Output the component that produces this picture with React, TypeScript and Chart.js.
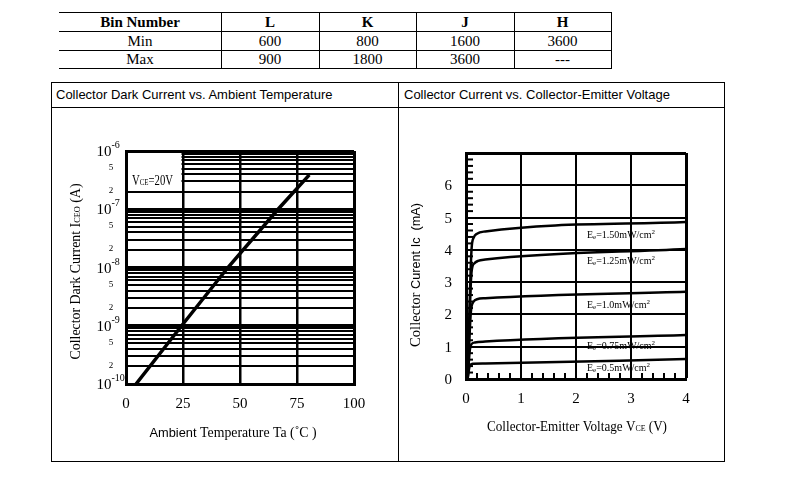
import React, { useEffect, useRef } from "react";
import { Chart, registerables } from "chart.js";

Chart.register(...registerables);

const SERIF = '"Liberation Serif", "Times New Roman", serif';
const SANS = '"Liberation Sans", Arial, sans-serif';

// ---------- Bin table ----------
const binHeader = ["Bin Number", "L", "K", "J", "H"];
const binMinRow = ["Min", "600", "800", "1600", "3600"];
const binMaxRow = ["Max", "900", "1800", "3600", "---"];

// ---------- Collector dark current vs ambient temperature ----------
const ambientTemp = [4.4, 24.4, 44.7, 66.7, 80.4];
const darkCurrentA = [1e-10, 1e-9, 1e-8, 1e-7, 3.9e-7];
const tempTickValues = [0, 25, 50, 75, 100];
const decadeExponents = [-10, -9, -8, -7, -6];
const gridMultipliers = [1, 2, 3, 4, 5, 6, 7, 8, 9];
const minorLabelMultipliers = [5, 2];
const vceCondition = "=20V";

// ---------- Collector current vs collector-emitter voltage ----------
const vceTickValues = [0, 1, 2, 3, 4];
const icTickValues = [0, 1, 2, 3, 4, 5, 6];
const icAxisMax = 7;
const vceAxisMax = 4;
const minorStep = 0.2;

const irradianceNames = ["1.50", "1.25", "1.0", "0.75", "0.5"];
const vceEe150 = [0.03, 0.1, 0.14, 0.2, 0.35, 4];
const icEe150 = [0, 4.0, 4.38, 4.5, 4.57, 4.86];
const vceEe125 = [0.03, 0.1, 0.15, 0.22, 0.35, 4];
const icEe125 = [0, 3.3, 3.58, 3.66, 3.7, 4.03];
const vceEe100 = [0.03, 0.09, 0.14, 0.2, 0.35, 4];
const icEe100 = [0, 2.1, 2.4, 2.47, 2.5, 2.7];
const vceEe075 = [0.03, 0.07, 0.1, 0.16, 0.35, 4];
const icEe075 = [0, 0.9, 1.08, 1.13, 1.16, 1.36];
const vceEe050 = [0.03, 0.06, 0.08, 0.13, 0.35, 4];
const icEe050 = [0, 0.36, 0.44, 0.47, 0.48, 0.62];
const curveVce = [vceEe150, vceEe125, vceEe100, vceEe075, vceEe050];
const curveIc = [icEe150, icEe125, icEe100, icEe075, icEe050];
const curveLabelVce = [2.2, 2.2, 2.2, 2.2, 2.2];
const curveLabelIc = [4.49, 3.68, 2.32, 1.03, 0.37];

// ---------- text helper ----------
type Part = { t: string; size: number; family?: string; weight?: string; dy?: number };

function drawParts(
  ctx: CanvasRenderingContext2D,
  parts: Part[],
  x: number,
  y: number,
  align: "left" | "center" | "right",
  targetWidth?: number
) {
  const fontOf = (p: Part) => `${p.weight || "normal"} ${p.size}px ${p.family || SERIF}`;
  let total = 0;
  for (const p of parts) {
    ctx.font = fontOf(p);
    total += ctx.measureText(p.t).width;
  }
  const sx = targetWidth ? targetWidth / total : 1;
  const w = total * sx;
  const start = align === "left" ? x : align === "center" ? x - w / 2 : x - w;
  ctx.save();
  ctx.translate(start, y);
  ctx.scale(sx, 1);
  ctx.textAlign = "left";
  ctx.textBaseline = "alphabetic";
  ctx.fillStyle = "#000";
  let cx = 0;
  for (const p of parts) {
    ctx.font = fontOf(p);
    ctx.fillText(p.t, cx, p.dy || 0);
    cx += ctx.measureText(p.t).width;
  }
  ctx.restore();
}

function drawRotated(ctx: CanvasRenderingContext2D, parts: Part[], cx: number, cy: number, targetWidth?: number) {
  ctx.save();
  ctx.translate(cx, cy);
  ctx.rotate(-Math.PI / 2);
  drawParts(ctx, parts, 0, 0, "center", targetWidth);
  ctx.restore();
}

const isDecade = (v: number) => {
  const l = Math.log10(v);
  return Math.abs(l - Math.round(l)) < 1e-6;
};

const yGridValues: number[] = decadeExponents.flatMap((e, i) =>
  i === decadeExponents.length - 1 ? [Math.pow(10, e)] : gridMultipliers.map((m) => m * Math.pow(10, e))
);

// ---------- plugins ----------
const leftDecor = {
  id: "leftDecor",
  beforeDatasetsDraw(chart: any) {
    const { ctx, chartArea: a, scales } = chart;
    const x = scales.x;
    const y = scales.y;
    const x1 = x.getPixelForValue(25) - 1.5;
    const y1 = y.getPixelForValue(2e-7) - 1.2;
    ctx.save();
    ctx.fillStyle = "#fff";
    ctx.fillRect(a.left + 2, a.top + 2, x1 - a.left - 2, y1 - a.top - 2);
    ctx.restore();
    drawParts(
      ctx,
      [
        { t: "V", size: 14 },
        { t: "CE", size: 9 },
        { t: vceCondition, size: 14 },
      ],
      a.left + 6,
      a.top + 34,
      "left",
      41
    );
  },
  afterDraw(chart: any) {
    const { ctx, chartArea: a, scales } = chart;
    const x = scales.x;
    const y = scales.y;
    // decade labels
    for (const e of decadeExponents) {
      const py = y.getPixelForValue(Math.pow(10, e));
      drawParts(
        ctx,
        [
          { t: "10", size: 15 },
          { t: String(e), size: 10, dy: -8 },
        ],
        a.left - 29.5,
        py + 5,
        "left"
      );
    }
    // 5 and 2 labels
    for (const e of decadeExponents.slice(0, -1)) {
      for (const m of minorLabelMultipliers) {
        const py = y.getPixelForValue(m * Math.pow(10, e));
        drawParts(ctx, [{ t: String(m), size: 9 }], a.left - 15, py + 1.5, "center");
      }
    }
    // x tick labels
    for (const t of tempTickValues) {
      drawParts(ctx, [{ t: String(t), size: 15 }], x.getPixelForValue(t), a.bottom + 24, "center");
    }
    // x title
    drawParts(
      ctx,
      [
        { t: "Ambient ", size: 13, family: SANS },
        { t: "Temperature Ta (˚C )", size: 14 },
      ],
      (a.left + a.right) / 2 - 7,
      a.bottom + 53,
      "center",
      167
    );
    // y title
    drawRotated(
      ctx,
      [
        { t: "Collector Dark Current I", size: 15 },
        { t: "CEO", size: 9 },
        { t: " (A)", size: 15 },
      ],
      a.left - 46,
      (a.top + a.bottom) / 2 + 4,
      176
    );
  },
};

const rightDecor = {
  id: "rightDecor",
  beforeDatasetsDraw(chart: any) {
    const { ctx, chartArea: a, scales } = chart;
    const x = scales.x;
    const y = scales.y;
    ctx.save();
    ctx.strokeStyle = "#000";
    ctx.lineWidth = 2;
    const nx = Math.round(vceAxisMax / minorStep);
    for (let k = 1; k < nx; k++) {
      if (k % 5 === 0) continue;
      const px = x.getPixelForValue(k * minorStep);
      ctx.beginPath();
      ctx.moveTo(px, a.bottom);
      ctx.lineTo(px, a.bottom - 6);
      ctx.stroke();
    }
    const ny = Math.round(icAxisMax / minorStep);
    for (let k = 1; k < ny; k++) {
      if (k % 5 === 0) continue;
      const py = y.getPixelForValue(k * minorStep);
      ctx.beginPath();
      ctx.moveTo(a.left, py);
      ctx.lineTo(a.left + 7, py);
      ctx.stroke();
    }
    ctx.restore();
  },
  afterDraw(chart: any) {
    const { ctx, chartArea: a, scales } = chart;
    const x = scales.x;
    const y = scales.y;
    for (const v of icTickValues) {
      drawParts(ctx, [{ t: String(v), size: 15 }], a.left - 14, y.getPixelForValue(v) + 5, "right");
    }
    for (const v of vceTickValues) {
      drawParts(ctx, [{ t: String(v), size: 15 }], x.getPixelForValue(v), a.bottom + 24, "center");
    }
    irradianceNames.forEach((name, i) => {
      drawParts(
        ctx,
        [
          { t: "E", size: 10 },
          { t: "e", size: 7, dy: 1 },
          { t: "=" + name + "mW/cm", size: 10 },
          { t: "2", size: 7, dy: -4 },
        ],
        x.getPixelForValue(curveLabelVce[i]),
        y.getPixelForValue(curveLabelIc[i]) + 3.5,
        "left"
      );
    });
    drawParts(
      ctx,
      [
        { t: "Collector-Emitter Voltage V", size: 15 },
        { t: "CE", size: 9 },
        { t: " (V)", size: 15 },
      ],
      (a.left + a.right) / 2 + 1,
      a.bottom + 52,
      "center",
      180
    );
    drawRotated(
      ctx,
      [
        { t: "Collector ", size: 15 },
        { t: "Curent Ic  (mA)", size: 13, family: SANS },
      ],
      a.left - 46,
      (a.top + a.bottom) / 2 + 9,
      144
    );
  },
};

function BinTable() {
  const colX = [59, 221, 319, 416, 514, 611];
  const rowY = [12, 31, 50, 68];
  const rows = [binHeader, binMinRow, binMaxRow];
  const els: any[] = [];
  rowY.forEach((yy, i) =>
    els.push(
      <div key={"h" + i} style={{ position: "absolute", left: colX[0], top: yy, width: colX[5] - colX[0] + 1, height: 1, background: "#000" }} />
    )
  );
  colX.slice(1).forEach((xx, i) =>
    els.push(
      <div key={"v" + i} style={{ position: "absolute", left: xx, top: rowY[0], width: 1, height: rowY[3] - rowY[0] + 1, background: "#000" }} />
    )
  );
  rows.forEach((r, ri) =>
    r.forEach((txt, ci) =>
      els.push(
        <div
          key={"c" + ri + "-" + ci}
          style={{
            position: "absolute",
            left: colX[ci],
            top: rowY[ri] + 1,
            width: colX[ci + 1] - colX[ci],
            height: rowY[ri + 1] - rowY[ri] - 1,
            display: "flex",
            alignItems: "center",
            justifyContent: "center",
            fontFamily: SERIF,
            fontSize: 15,
            fontWeight: ri === 0 ? "bold" : "normal",
            color: "#000",
            lineHeight: 1,
          }}
        >
          {txt}
        </div>
      )
    )
  );
  return <>{els}</>;
}

export default function App() {
  const leftRef = useRef<HTMLCanvasElement>(null);
  const rightRef = useRef<HTMLCanvasElement>(null);

  useEffect(() => {
    const left = new Chart(leftRef.current as HTMLCanvasElement, {
      type: "line",
      data: {
        datasets: [
          {
            data: ambientTemp.map((t, i) => ({ x: t, y: darkCurrentA[i] })),
            borderColor: "#000",
            borderWidth: 3.5,
            pointRadius: 0,
            tension: 0,
            fill: false,
          },
        ],
      },
      options: {
        animation: false,
        responsive: false,
        events: [],
        layout: { padding: { left: 74, top: 43, right: 43, bottom: 77 } },
        plugins: { legend: { display: false }, tooltip: { enabled: false } },
        scales: {
          x: {
            type: "linear",
            min: 0,
            max: 100,
            afterBuildTicks: (s: any) => {
              s.ticks = tempTickValues.map((v) => ({ value: v }));
            },
            ticks: { display: false },
            grid: {
              color: "#000",
              drawTicks: false,
              lineWidth: (c: any) => (c.tick && (c.tick.value === 0 || c.tick.value === 100) ? 3 : 2.5),
            },
            border: { display: true, color: "#000", width: 3 },
          },
          y: {
            type: "logarithmic",
            min: 1e-10,
            max: 1e-6,
            afterBuildTicks: (s: any) => {
              s.ticks = yGridValues.map((v) => ({ value: v }));
            },
            ticks: { display: false },
            grid: {
              color: "#000",
              drawTicks: false,
              lineWidth: (c: any) => (c.tick && isDecade(c.tick.value) ? 3 : 2),
            },
            border: { display: true, color: "#000", width: 3 },
          },
        },
      } as any,
      plugins: [leftDecor],
    } as any);

    const right = new Chart(rightRef.current as HTMLCanvasElement, {
      type: "line",
      data: {
        datasets: curveVce.map((vs, i) => ({
          label: irradianceNames[i],
          data: vs.map((v, j) => ({ x: v, y: curveIc[i][j] })),
          borderColor: "#000",
          borderWidth: 2.5,
          pointRadius: 0,
          cubicInterpolationMode: "monotone",
          fill: false,
        })),
      },
      options: {
        animation: false,
        responsive: false,
        events: [],
        layout: { padding: { left: 67, top: 45, right: 38, bottom: 82 } },
        plugins: { legend: { display: false }, tooltip: { enabled: false } },
        scales: {
          x: {
            type: "linear",
            min: 0,
            max: vceAxisMax,
            afterBuildTicks: (s: any) => {
              s.ticks = vceTickValues.map((v) => ({ value: v }));
            },
            ticks: { display: false },
            grid: {
              color: "#000",
              drawTicks: false,
              lineWidth: (c: any) => (c.tick && c.tick.value === vceAxisMax ? 3 : 2),
            },
            border: { display: true, color: "#000", width: 3 },
          },
          y: {
            type: "linear",
            min: 0,
            max: icAxisMax,
            afterBuildTicks: (s: any) => {
              s.ticks = [...icTickValues, icAxisMax].map((v) => ({ value: v }));
            },
            ticks: { display: false },
            grid: {
              color: "#000",
              drawTicks: false,
              lineWidth: (c: any) => (c.tick && c.tick.value === icAxisMax ? 3 : 2),
            },
            border: { display: true, color: "#000", width: 3 },
          },
        },
      } as any,
      plugins: [rightDecor],
    } as any);

    return () => {
      left.destroy();
      right.destroy();
    };
  }, []);

  return (
    <div style={{ position: "absolute", left: 0, top: 0, width: 790, height: 496, background: "#fff", overflow: "hidden" }}>
      <BinTable />
      <div style={{ position: "absolute", left: 51, top: 82, width: 674, height: 380, border: "1px solid #000", boxSizing: "border-box" }} />
      <div style={{ position: "absolute", left: 398, top: 82, width: 1, height: 380, background: "#000" }} />
      <div style={{ position: "absolute", left: 51, top: 107, width: 674, height: 1, background: "#000" }} />
      <div style={{ position: "absolute", left: 56, top: 83, height: 24, lineHeight: "24px", fontFamily: SANS, fontSize: 13, color: "#000", whiteSpace: "nowrap" }}>
        Collector Dark Current vs. Ambient Temperature
      </div>
      <div style={{ position: "absolute", left: 404, top: 83, height: 24, lineHeight: "24px", fontFamily: SANS, fontSize: 13, color: "#000", whiteSpace: "nowrap" }}>
        Collector Current vs. Collector-Emitter Voltage
      </div>
      <canvas ref={leftRef} width={345} height={353} style={{ position: "absolute", left: 52, top: 108, width: 345, height: 353 }} />
      <canvas ref={rightRef} width={325} height={353} style={{ position: "absolute", left: 399, top: 108, width: 325, height: 353 }} />
    </div>
  );
}
